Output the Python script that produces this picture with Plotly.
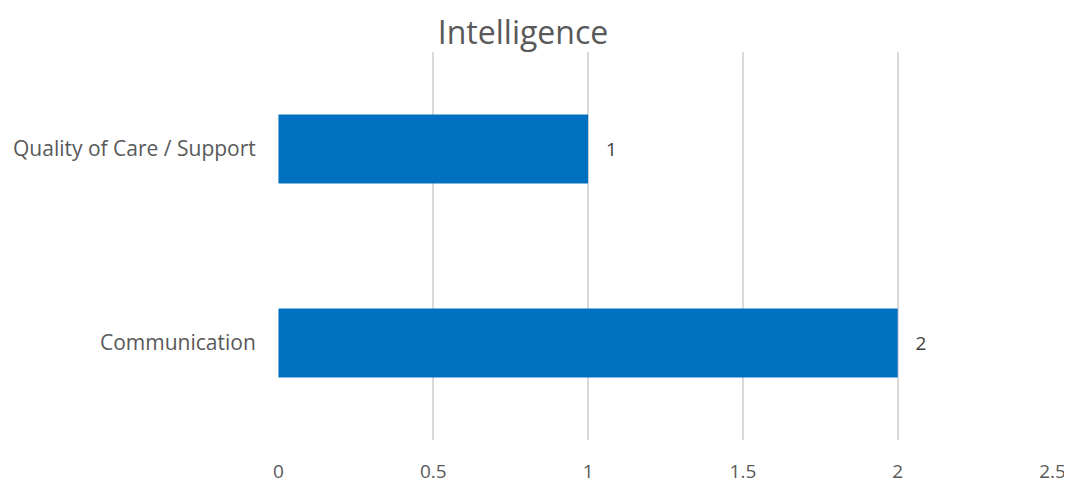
import plotly.graph_objects as go

categories = ["Communication", "Quality of Care / Support"]
values = [2, 1]
x_ticks = [0, 0.5, 1, 1.5, 2, 2.5]
x_tick_labels = ["0", "0.5", "1", "1.5", "2", "2.5"]

FONT = "'Open Sans', sans-serif"
BODY = 8  # default page body margin in the written html

fig = go.Figure(go.Bar(
    y=categories,
    x=values,
    orientation="h",
    marker=dict(color="#0070C0", line=dict(width=0)),
    text=values,
    texttemplate="   %{x}",
    textposition="outside",
    textfont=dict(family=FONT, size=19, color="#404040"),
    cliponaxis=False,
))

W, H = 1072 - BODY, 483 - BODY
fig.update_layout(
    width=W, height=H,
    margin=dict(l=278 - BODY, r=19, t=52 - BODY, b=43),
    paper_bgcolor="white", plot_bgcolor="white",
    bargap=0.645,
    showlegend=False,
    title=dict(text="Intelligence", x=(523 - BODY) / W, xanchor="center", xref="container",
               y=1 - (33 - BODY) / H, yref="container", yanchor="middle",
               font=dict(family=FONT, size=32, color="#595959")),
    xaxis=dict(range=[-0.0015, 2.5015], tickvals=x_ticks, ticktext=x_tick_labels,
               automargin=False,
               showgrid=True, gridcolor="#D9D9D9", gridwidth=1.5,
               zeroline=False, showline=False,
               ticks="outside", ticklen=14, tickcolor="rgba(0,0,0,0)",
               tickfont=dict(family=FONT, size=19, color="#595959")),
    yaxis=dict(showgrid=False, zeroline=False, showline=False, automargin=False,
               ticks="outside", ticklen=17, tickcolor="rgba(0,0,0,0)",
               tickfont=dict(family=FONT, size=21, color="#595959")),
)

fig.write_html("out.html")
